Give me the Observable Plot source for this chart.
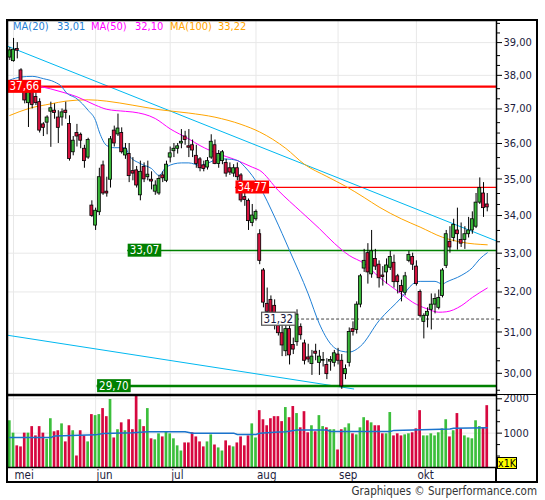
<!DOCTYPE html>
<html><head><meta charset="utf-8">
<script src="https://cdn.jsdelivr.net/npm/d3@7"></script>
<script src="https://cdn.jsdelivr.net/npm/@observablehq/plot@0.6"></script>
<style>
body{margin:0;background:#fff;}
#wrap{position:relative;width:545px;height:500px;overflow:hidden;font-family:"DejaVu Sans Condensed","DejaVu Sans",sans-serif;}
#wrap svg{position:absolute;left:0;}
.abs{position:absolute;}
#legend span{position:absolute;top:20px;font-size:11px;line-height:14px;white-space:nowrap;}
</style></head><body><div id="wrap"></div>
<script>
// ---------- DATA ----------
const months = ["mei","jun","jul","aug","sep","okt"];
const monthStart = [1, 23, 43, 66, 88, 109];

const open = [38.54,38.43,38.80,38.15,37.65,37.17,37.65,37.35,37.20,36.55, 36.60,36.92,36.95,36.75,36.75,36.95,36.56,35.75,36.30,36.25, 35.85,35.60,34.27,33.73,34.09,35.38,34.65,34.98,36.37,36.26, 36.30,35.66,35.70,35.22,35.24,34.55,35.34,35.05,34.98,34.65, 34.60,35.10,34.95,35.60,35.78,35.85,36.00,36.20,35.92,35.95, 35.65,35.55,35.38,35.32,35.60,35.95,35.42,35.50,35.45,35.30, 35.15,35.30,35.10,34.50,34.40,33.80,33.90,33.50,32.55,31.70, 31.80,31.65,31.20,30.97,30.53,31.07,30.68,30.75,31.12,30.72, 30.38,30.22,30.52,30.25,30.30,30.20,30.28,30.25,30.45,30.30, 29.98,30.25,31.07,31.05,31.68,32.60,33.00,32.45,32.85,32.70, 32.42,32.50,32.62,32.75,32.40,32.15,31.98,32.80,32.90,32.65, 32.00,31.25,31.40,31.55,31.68,31.60,31.90,32.67,33.30,33.40, 33.60,33.35,33.35,33.50,33.60,33.70,34.35,34.60,34.30];
const high = [38.85,39.13,39.00,38.20,37.80,37.75,37.80,37.60,37.30,36.60, 36.80,37.20,37.15,36.95,37.00,37.20,36.80,36.20,36.55,36.30, 35.95,36.15,34.40,34.20,35.30,35.50,35.05,36.20,36.50,36.85, 36.45,36.00,36.00,35.60,35.35,35.50,35.45,35.50,35.20,34.95, 35.10,35.20,35.50,35.90,36.00,36.00,36.40,36.35,36.40,36.10, 35.95,35.60,35.50,35.60,36.25,36.10,35.80,35.80,35.55,35.45, 35.40,35.45,35.15,34.65,34.45,34.30,34.15,33.62,32.60,32.10, 31.90,31.80,31.30,31.20,31.35,31.15,30.85,31.55,31.20,30.80, 30.70,30.55,30.70,30.55,30.50,30.35,30.40,30.55,30.60,30.45, 30.20,31.10,31.25,31.75,32.45,33.10,33.25,33.60,33.10,32.80, 32.65,32.85,33.05,32.95,32.45,32.30,32.50,33.05,33.00,32.80, 32.05,31.45,31.60,31.95,31.95,32.05,32.60,33.60,33.70,33.90, 34.20,33.80,33.70,33.95,34.10,34.60,35.03,34.90,34.60];
const low = [38.45,38.40,38.50,37.70,37.15,36.46,37.00,37.10,36.30,36.20, 36.25,35.89,36.70,36.00,36.50,36.70,35.50,35.65,35.90,35.85, 35.30,35.55,33.95,33.60,34.00,34.55,34.50,34.75,35.90,36.20, 35.70,35.55,34.90,34.95,34.75,34.40,34.90,34.95,34.70,34.55, 34.55,34.90,34.90,35.45,35.60,35.70,35.85,35.95,35.60,35.60, 35.30,35.20,35.20,35.25,35.55,35.40,35.30,35.40,35.05,35.10, 35.05,34.95,34.35,34.25,33.60,33.70,33.85,32.70,31.60,31.40, 31.35,31.05,30.90,30.40,30.40,30.20,30.45,30.65,30.80,30.20, 30.25,29.95,30.30,29.95,30.15,29.85,30.05,30.15,30.20,29.62, 29.85,30.15,30.90,30.95,31.60,32.50,32.20,32.35,32.55,32.10, 32.15,32.20,32.55,32.10,31.95,31.75,31.90,32.75,32.55,32.15, 31.35,30.83,31.10,31.05,31.45,31.55,31.85,32.60,33.00,33.30, 33.08,33.15,33.10,33.40,33.50,33.65,34.30,33.95,34.10];
const close = [38.76,38.78,38.75,37.80,37.25,37.69,37.12,37.17,36.37,36.45, 36.75,37.02,36.88,36.45,36.90,36.88,35.56,36.08,36.20,36.08, 35.50,36.10,33.99,34.13,35.05,34.60,34.60,36.12,36.00,36.43, 35.75,35.85,35.08,35.15,34.82,35.20,34.99,35.12,34.93,34.82, 35.00,35.02,35.40,35.72,35.85,35.92,36.05,36.10,35.88,35.80, 35.42,35.30,35.28,35.50,36.05,35.42,35.70,35.75,35.15,35.18, 35.30,35.05,34.41,34.42,33.85,34.00,34.10,32.80,31.73,31.50, 31.45,31.20,30.97,30.67,31.07,30.43,30.57,31.43,30.92,30.30, 30.33,30.40,30.47,30.40,30.32,29.98,30.32,30.48,30.30,29.69, 30.10,31.00,31.00,31.68,32.40,32.80,32.50,33.05,32.65,32.35, 32.38,32.68,32.90,32.25,32.25,32.00,32.40,32.95,32.70,32.20, 31.40,31.40,31.50,31.68,31.82,31.85,32.55,33.50,33.15,33.75, 33.50,33.25,33.50,33.60,33.90,34.35,34.75,34.20,34.22];
const volume = [1360,1000,630,600,1000,1000,1190,920,1190,1000, 820,1420,1040,1070,1270,745,1215,1070,335,1070, 920,745,1540,1510,1540,1715,1480,1980,860,1100, 1300,1070,1390,1100,2070,1390,1190,1715,835,805, 980,890,1040,980,835,630,480,715,715,1010, 890,745,600,745,950,655,570,480,775,630, 600,715,890,630,920,1270,860,1655,1390,1215, 1420,1480,1480,1335,1745,1450,1775,1570,1155,1625, 1010,1215,1040,1510,1190,1155,1100,1100,510,1100, 1155,1270,980,950,1155,1450,1360,1300,1215,1215, 980,980,1600,920,980,920,950,980,1010,1125, 1655,920,920,980,920,1010,1125,1390,890,1070, 1570,1125,920,860,835,1360,1190,1155,1800];

const ma20Idx = [0,3,6,9,12,14,15,18,21,23,24,26,28,31,32,35,38,40,42,46,48,51,53,56,58,61,63,67,71,75,80,83,86,89,91,94,99,105,108,110,114,116,117,121,124,126,128];
const ma20Val = [37.86,37.95,37.97,37.90,37.80,37.65,37.50,37.30,36.96,36.66,36.33,35.94,35.88,35.88,35.66,35.43,35.29,35.10,35.34,35.45,35.45,35.38,35.44,35.56,35.56,35.52,35.34,34.78,33.96,33.07,31.95,31.20,30.71,30.53,30.51,30.65,31.28,31.86,32.20,32.27,32.27,32.20,32.25,32.42,32.62,32.85,33.01];
const ma50Idx = [0,8,14,18,23,26,31,33,39,43,48,51,56,60,65,67,72,78,83,87,91,95,99,105,108,112,115,117,121,124,128];
const ma50Val = [37.79,37.67,37.50,37.36,37.11,36.99,36.93,36.91,36.72,36.42,36.13,35.94,35.70,35.56,35.33,35.24,34.68,34.11,33.65,33.26,32.94,32.73,32.38,31.95,31.74,31.57,31.49,31.50,31.65,31.86,32.10];
const ma100Idx = [0,5,11,15,21,26,33,40,48,55,62,67,74,79,85,90,95,99,105,110,116,121,128];
const ma100Val = [36.81,37.01,37.15,37.23,37.27,37.23,37.11,36.98,36.88,36.76,36.55,36.33,35.86,35.41,35.07,34.80,34.49,34.23,33.91,33.69,33.42,33.29,33.22];
const volMaIdx = [0,11,12,23,25,33,37,47,49,60,61,66,67,72,74,77,85,86,102,103,118,119,128];
const volMaVal = [870,870,920,950,990,1010,1040,1040,1000,1000,960,960,1000,1030,1040,1090,1090,1050,1050,1080,1120,1145,1155];

const levels = [37.66, 34.77, 33.07, 31.32, 29.70];
const levelFrom = [-0.62, 60.5, 31.6, 67.5, 23.4];
const trendUpIdx = [-0.62, 130.48], trendUpVal = [38.89, 33.32];
const trendLowIdx = [-0.62, 92.2], trendLowVal = [30.92, 29.63];

const priceTicks = [30,31,32,33,34,35,36,37,38,39];
const volTicks = [1000, 2000];

// ---------- CHART ----------
const FONT = '"DejaVu Sans Condensed","DejaVu Sans",sans-serif';
const fmt = d => d.toFixed(2).replace(".", ",");
const GREEN = "#38b638", RED = "#d5113e", AXIS = "#1c1c3c";
const XDOM = [-0.62, 130.48];
const candles = close.map((c, i) => ({i, o: open[i], h: high[i], l: low[i], c, v: volume[i], up: c >= open[i]}));
const pts = (I, V) => I.map((i, k) => ({i, v: V[k]}));
const minorP = d3.range(29, 40).flatMap(m => [m + 0.3, m + 0.6]).filter(v => v > 29.5 && v < 39.69);
const minorV = [333, 667, 1333, 1667];

const levelStyle = [
  {stroke: "#ff0000", w: 2.2, bg: "#ff0000", fg: "#ffffff"},
  {stroke: "#ff0000", w: 1.3, bg: "#ff0000", fg: "#ffffff"},
  {stroke: "#008000", w: 1.3, bg: "#008000", fg: "#ffffff"},
  {stroke: "#444444", w: 1, dash: "3,2", bg: "#ffffff", border: "#555555", fg: "#1a1a40"},
  {stroke: "#008000", w: 2.6, bg: "#008000", fg: "#ffffff"}
];
const lv = levels.map((v, k) => ({v, from: levelFrom[k], k}));

const common = {width: 545, marginLeft: 7, marginRight: 49,
  style: {fontFamily: FONT, fontSize: "11px", color: AXIS, background: "transparent", overflow: "visible"}};

const price = Plot.plot({
  ...common, height: 395, marginTop: 20, marginBottom: 1,
  x: {type: "linear", domain: XDOM, axis: null},
  y: {type: "log", domain: [29.50, 39.69]},
  marks: [
    Plot.ruleY(priceTicks, {stroke: "#e8e8e8"}),
    Plot.ruleX(monthStart, {stroke: "#e8e8e8"}),
    Plot.line(pts(trendUpIdx, trendUpVal), {x: "i", y: "v", stroke: "#00b8f0", strokeWidth: 1}),
    Plot.line(pts(trendLowIdx, trendLowVal), {x: "i", y: "v", stroke: "#00b8f0", strokeWidth: 1}),
    ...lv.map(d => Plot.ruleY([d], {y: "v", x1: "from", x2: () => XDOM[1], stroke: levelStyle[d.k].stroke,
      strokeWidth: levelStyle[d.k].w, strokeDasharray: levelStyle[d.k].dash})),
    Plot.line(pts(ma100Idx, ma100Val), {x: "i", y: "v", stroke: "#ffa500", strokeWidth: 1, curve: "monotone-x"}),
    Plot.line(pts(ma50Idx, ma50Val), {x: "i", y: "v", stroke: "#ff00ff", strokeWidth: 1, curve: "monotone-x"}),
    Plot.line(pts(ma20Idx, ma20Val), {x: "i", y: "v", stroke: "#1f7fd6", strokeWidth: 1, curve: "monotone-x"}),
    Plot.ruleX(candles, {x: "i", y1: "l", y2: "h", stroke: "#000", strokeWidth: 1}),
    Plot.rect(candles, {x1: d => d.i - 0.4, x2: d => d.i + 0.4, y1: "o", y2: "c",
      fill: d => d.up ? GREEN : RED, stroke: "#000", strokeWidth: 0.8}),
    ...lv.map(d => Plot.text([d], {x: "from", y: "v", text: d => fmt(d.v), textAnchor: "start", dx: 2,
      fill: levelStyle[d.k].fg, fontSize: 11.5})),
    Plot.axisY({anchor: "right", ticks: minorP, tickSize: 3, tickFormat: () => "", label: null, stroke: "#000"}),
    Plot.axisY({anchor: "right", ticks: priceTicks, tickSize: 5, tickPadding: 2, tickFormat: fmt, label: null, stroke: "#000", fill: AXIS}),
    Plot.frame({stroke: "#000", strokeWidth: 1.5})
  ]
});

const vol = Plot.plot({
  ...common, height: 88, marginTop: 1, marginBottom: 15,
  x: {type: "linear", domain: XDOM},
  y: {domain: [0, 2096]},
  marks: [
    Plot.ruleY(volTicks, {stroke: "#e8e8e8"}),
    Plot.ruleX(monthStart, {stroke: "#e8e8e8"}),
    Plot.rectY(candles, {x1: d => d.i - 0.36, x2: d => d.i + 0.36, y: "v", fill: d => d.up ? "#3cbf3c" : "#d6083f"}),
    Plot.line(pts(volMaIdx, volMaVal), {x: "i", y: "v", stroke: "#1a73cc", strokeWidth: 1.5}),
    Plot.axisY({anchor: "right", ticks: minorV, tickSize: 3, tickFormat: () => "", label: null, stroke: "#000"}),
    Plot.axisY({anchor: "right", ticks: volTicks, tickSize: 5, tickPadding: 2, tickFormat: d => String(d), label: null, stroke: "#000", fill: AXIS}),
    Plot.axisX({ticks: monthStart, tickFormat: d => months[monthStart.indexOf(d)], tickSize: 0, tickPadding: 3,
      textAnchor: "start", dx: 1, label: null, fill: AXIS, fontSize: 11.5}),
    Plot.frame({stroke: "#000", strokeWidth: 1.5})
  ]
});

const wrap = document.getElementById("wrap");
price.style.top = "0px";
vol.style.top = "394px";
wrap.appendChild(price);
wrap.appendChild(vol);

// label boxes behind the level values
price.querySelectorAll('g[aria-label="text"] text').forEach((t, k) => {
  const s = levelStyle[k]; if (!s) return;
  const b = t.getBBox();
  const r = document.createElementNS("http://www.w3.org/2000/svg", "rect");
  r.setAttribute("x", b.x - 2); r.setAttribute("y", b.y + 0.5);
  r.setAttribute("width", b.width + 4); r.setAttribute("height", b.height - 1);
  r.setAttribute("fill", s.bg);
  if (s.border) { r.setAttribute("stroke", s.border); r.setAttribute("stroke-width", 1.2); }
  else r.setAttribute("stroke", "none");
  if (t.getAttribute("transform")) r.setAttribute("transform", t.getAttribute("transform"));
  t.parentNode.insertBefore(r, t);
});

// frame pieces, legend, unit box, caption
const add = (html) => { const d = document.createElement("div"); d.innerHTML = html; wrap.appendChild(d.firstElementChild); };
add('<div class="abs" style="left:6px;top:19px;width:532px;height:464px;border:2px solid #000;box-sizing:border-box;pointer-events:none"></div>');
add('<div class="abs" style="left:496px;top:393.5px;width:41px;height:1.6px;background:#000"></div>');
add('<div class="abs" style="left:495.3px;top:467px;width:1.5px;height:15px;background:#000"></div>');
add('<div id="legend" class="abs" style="left:0;top:0;width:545px;height:40px">' +
  '<span style="left:13px;color:#1f7fd6">MA(20)</span>' +
  '<span style="left:57px;color:#1f7fd6">' + fmt(ma20Val[ma20Val.length - 1]) + '</span>' +
  '<span style="left:91px;color:#ff00ff">MA(50)</span>' +
  '<span style="left:135px;color:#ff00ff">' + fmt(ma50Val[ma50Val.length - 1]) + '</span>' +
  '<span style="left:170px;color:#ffa500">MA(100)</span>' +
  '<span style="left:218px;color:#ffa500">' + fmt(ma100Val[ma100Val.length - 1]) + '</span></div>');
add('<div class="abs" style="left:497px;top:457px;width:20px;height:12px;background:#ffff00;border:1px solid #000;box-sizing:border-box;font-size:10.5px;line-height:10px;text-align:center;color:#000">x1K</div>');
add('<div class="abs" style="right:8px;top:484px;font-size:11.5px;line-height:15px;color:#333;white-space:nowrap">Graphiques © Surperformance.com</div>');
</script>
</body></html>
